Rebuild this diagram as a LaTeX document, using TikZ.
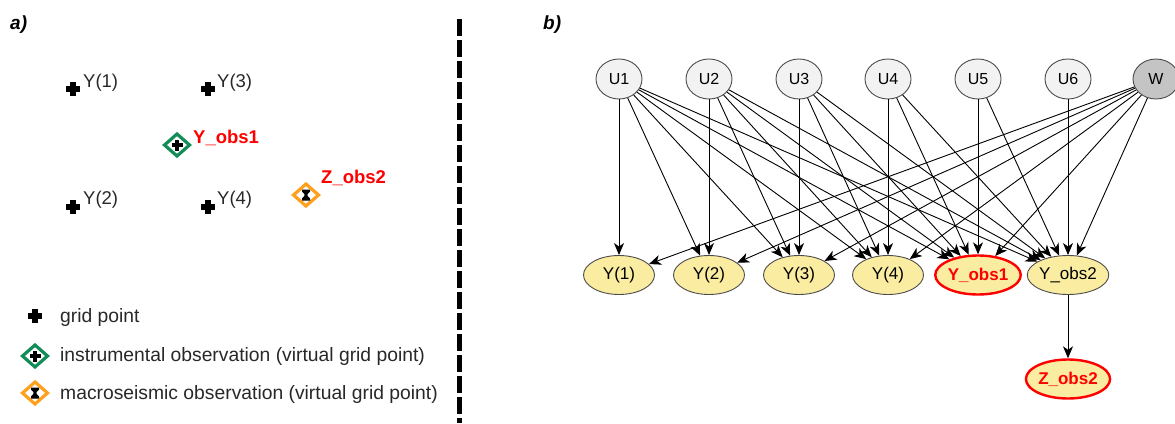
\documentclass[tikz,border=0pt]{standalone}
\usepackage{fontspec}
\setmainfont{Liberation Sans}
\usetikzlibrary{shapes.geometric,arrows.meta}
\definecolor{yfill}{RGB}{250,236,160}
\definecolor{ufill}{RGB}{242,242,242}
\definecolor{wfill}{RGB}{196,196,196}
\definecolor{ugreen}{RGB}{20,140,90}
\definecolor{uorange}{RGB}{255,160,30}
\definecolor{lbl}{RGB}{40,40,40}
\begin{document}
\begin{tikzpicture}[x=1pt,y=-1pt,
  unode/.style={ellipse, draw=black!70, fill=ufill, line width=0.9pt, minimum width=46pt, minimum height=40pt, inner sep=0pt, font=\fontsize{16}{19}\selectfont},
  wnode/.style={unode, fill=wfill},
  ynode/.style={ellipse, draw=black!70, fill=yfill, line width=0.9pt, minimum width=71pt, minimum height=39pt, inner sep=0pt, font=\fontsize{17}{20}\selectfont},
  obsnode/.style={ynode, draw=red, line width=2.4pt, text=red, font=\fontsize{17}{20}\selectfont\bfseries},
  edge/.style={-{Stealth[length=12pt,width=10pt,inset=3.5pt]}, line width=0.9pt},
  alabel/.style={anchor=base west, inner sep=0pt, text=lbl, font=\fontsize{18.5}{21}\selectfont},
  redlabel/.style={anchor=base west, inner sep=0pt, text=red, font=\fontsize{18.5}{21}\selectfont\bfseries},
  legtext/.style={anchor=base west, inner sep=0pt, text=lbl, font=\fontsize{19.3}{22}\selectfont},
  paneltitle/.style={anchor=base west, inner sep=0pt, font=\fontsize{19}{22}\selectfont\bfseries\itshape},
  gridpt/.pic={\fill[black] (-7,-2.8) rectangle (7,2.8); \fill[black] (-2.8,-7) rectangle (2.8,7);},
  instobs/.pic={\draw[ugreen, line width=3.2pt, fill=white] (-12.5,0) -- (0,-11) -- (12.5,0) -- (0,11) -- cycle;
     \fill[black] (-5.5,-2.4) rectangle (5.5,2.4); \fill[black] (-2.4,-5.5) rectangle (2.4,5.5);},
  macobs/.pic={\draw[uorange, line width=3.2pt, fill=white] (-12.5,0) -- (0,-11) -- (12.5,0) -- (0,11) -- cycle;
     \fill[black] (-4,-5.5) -- (4,-5.5) -- (4,-3.5) -- (1.7,-1) -- (1.7,1) -- (4,3.5) -- (4,5.5) -- (-4,5.5) -- (-4,3.5) -- (-1.7,1) -- (-1.7,-1) -- (-4,-3.5) -- cycle;}
]
\useasboundingbox (0,0) rectangle (1175,423);

% ---------- panel a ----------
\node[paneltitle] (ta) at (10,29) {a)};
\pic at (73,89) {gridpt};
\pic at (208,89) {gridpt};
\pic at (73,207) {gridpt};
\pic at (208,207) {gridpt};
\pic at (177,145) {instobs};
\pic at (306,195) {macobs};
\node[alabel] (la1) at (83,87) {Y(1)};
\node[alabel] (la3) at (217,87) {Y(3)};
\node[alabel] (la2) at (83,204) {Y(2)};
\node[alabel] (la4) at (217,204) {Y(4)};
\node[redlabel] (lo1) at (193,143.5) {Y\_obs1};
\node[redlabel] (lz2) at (321,183.5) {Z\_obs2};

\pic at (35,316) {gridpt};
\pic at (35,356) {instobs};
\pic at (35,393) {macobs};
\node[legtext] (lg1) at (60,322) {grid point};
\node[legtext] (lg2) at (60,361) {instrumental observation (virtual grid point)};
\node[legtext] (lg3) at (60,399) {macroseismic observation (virtual grid point)};

\draw[line width=5pt, dash pattern=on 17pt off 4pt] (459,19) -- (459,423);

% ---------- panel b ----------
\node[paneltitle] (tb) at (543,29) {b)};
\node[unode] (U1) at (619,79) {U1};
\node[unode] (U2) at (709,79) {U2};
\node[unode] (U3) at (799,79) {U3};
\node[unode] (U4) at (888,79) {U4};
\node[unode] (U5) at (978,79) {U5};
\node[unode] (U6) at (1068,79) {U6};
\node[wnode] (W) at (1156,79) {W};

\node[ynode] (Y1) at (619,275) {Y(1)};
\node[ynode] (Y2) at (709,275) {Y(2)};
\node[ynode] (Y3) at (799,275) {Y(3)};
\node[ynode] (Y4) at (888,275) {Y(4)};
\node[obsnode] (Yo1) at (978,275) {Y\_obs1};
\node[ynode] (Yo2) at (1068,275) {Y\_obs2};
\node[obsnode] (Zo2) at (1068,379) {Z\_obs2};

\foreach \t in {Y1,Y2,Y3,Y4,Yo1,Yo2} \draw[edge] (U1) -- (\t);
\foreach \t in {Y2,Y3,Y4,Yo1,Yo2} \draw[edge] (U2) -- (\t);
\foreach \t in {Y3,Y4,Yo1,Yo2} \draw[edge] (U3) -- (\t);
\foreach \t in {Y4,Yo1,Yo2} \draw[edge] (U4) -- (\t);
\foreach \t in {Yo1,Yo2} \draw[edge] (U5) -- (\t);
\draw[edge] (U6) -- (Yo2);
\foreach \t in {Y1,Y2,Y3,Y4,Yo1,Yo2} \draw[edge] (W) -- (\t);
\draw[edge] (Yo2) -- (Zo2);
\end{tikzpicture}
\end{document}
